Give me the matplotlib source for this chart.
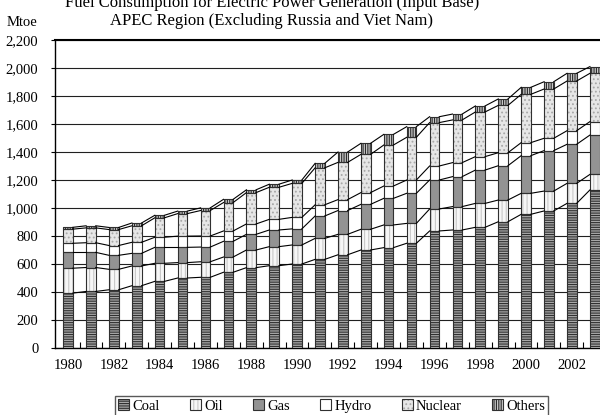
import matplotlib
matplotlib.use("Agg")
import numpy as np
import matplotlib.pyplot as plt
from matplotlib.patches import Patch
from matplotlib.legend_handler import HandlerTuple

plt.rcParams["font.family"] = ["Liberation Serif", "DejaVu Serif"]
plt.rcParams["hatch.linewidth"] = 0.8

years = list(range(1980, 2004))
coal = [392, 404, 416, 445, 476, 500, 505, 541, 574, 588, 600, 633,
        666, 700, 717, 748, 836, 843, 862, 902, 955, 979, 1033, 1129]
oil = [178, 171, 146, 141, 129, 110, 111, 109, 126, 136, 136, 150,
       146, 148, 162, 142, 157, 167, 171, 155, 150, 142, 143, 111]
gas = [113, 108, 100, 90, 114, 109, 105, 112, 112, 119, 115, 160,
       170, 178, 190, 215, 207, 214, 238, 245, 269, 289, 279, 281]
hydro = [65, 69, 70, 79, 72, 80, 79, 74, 74, 76, 82, 80,
         78, 84, 88, 95, 100, 100, 96, 93, 93, 88, 97, 96]
nuclear = [101, 106, 114, 118, 139, 161, 182, 203, 224, 229, 243, 264,
           266, 273, 293, 305, 310, 305, 319, 338, 345, 352, 355, 345]
others = [13, 15, 15, 20, 18, 18, 19, 23, 20, 22, 24, 32,
          74, 79, 76, 76, 42, 42, 43, 46, 50, 52, 55, 48]

series = [("Coal", coal), ("Oil", oil), ("Gas", gas),
          ("Hydro", hydro), ("Nuclear", nuclear), ("Others", others)]
# facecolor, hatch, hatch colour
styles = {
    "Coal": ("#a8a8a8", "-------", "#303030"),
    "Oil": ("#f6f6f6", "||||", "#c8c8c8"),
    "Gas": ("#939393", "", "#939393"),
    "Hydro": ("#ffffff", "", "#ffffff"),
    "Nuclear": ("#e6e6e6", "....", "#a8a8a8"),
    "Others": ("#c8c8c8", "|||||||", "#2a2a2a"),
}

fig = plt.figure(figsize=(6.0, 4.15), dpi=100)
ax = fig.add_axes([55 / 600, 1 - 348 / 415, 545 / 600, 308 / 415])

x = np.arange(len(years))
w = 0.42
bottom = np.zeros(len(years))
handles = []
tops = []
for name, vals in series:
    fc, hatch, hc = styles[name]
    v = np.array(vals, dtype=float)
    ax.bar(x, v, w, bottom=bottom, color=fc, hatch=hatch, edgecolor=hc,
           linewidth=0, zorder=3)
    ax.bar(x, v, w, bottom=bottom, fill=False, edgecolor="#303030",
           linewidth=0.8, zorder=4)
    bottom = bottom + v
    tops.append(bottom.copy())
    handles.append((Patch(facecolor=fc, hatch=hatch, edgecolor=hc, linewidth=0),
                    Patch(fill=False, edgecolor="#303030", linewidth=0.8)))

# series lines between bars
for t in tops:
    for i in range(len(x) - 1):
        ax.plot([x[i] + w / 2, x[i + 1] - w / 2], [t[i], t[i + 1]],
                color="black", lw=0.8, zorder=5)

ax.set_ylim(0, 2200)
ax.set_xlim(-0.57, 23.23)
ax.set_yticks(range(0, 2201, 200))
ax.set_yticklabels([f"{v:,}" for v in range(0, 2201, 200)])
ax.yaxis.grid(True, color="#202020", lw=0.8, zorder=0)
ax.set_axisbelow(True)

ax.set_xticks(x[::2])
ax.set_xticklabels([str(y) for y in years[::2]])
ax.set_xticks(x[:-1] + 0.5, minor=True)
ax.tick_params(axis="x", which="major", length=0, pad=8, labelsize=10.5)
ax.tick_params(axis="x", which="minor", direction="in", length=4, width=0.8)
ax.tick_params(axis="y", length=3, width=0.8, pad=9, labelsize=10.5)

ax.spines["right"].set_visible(False)
ax.spines["top"].set_linewidth(1.5)
ax.spines["left"].set_linewidth(1.0)
ax.spines["bottom"].set_linewidth(1.0)

fig.text(272 / 600, 1 - 12 / 415,
         "Fuel Consumption for Electric Power Generation (Input Base)\n"
         "APEC Region (Excluding Russia and Viet Nam)",
         ha="center", va="center", fontsize=12, linespacing=1.15)
fig.text(22 / 600, 1 - 22 / 415, "Mtoe", ha="center", va="center", fontsize=10.5)

leg = fig.legend(handles, [s[0] for s in series],
                 handler_map={tuple: HandlerTuple(ndivide=1, pad=0)},
                 loc="upper left", bbox_to_anchor=(108 / 600, 1 - 389 / 415),
                 ncol=6, frameon=True, fancybox=False, edgecolor="#303030",
                 handlelength=0.75, handleheight=0.75, handletextpad=0.2,
                 columnspacing=2.1, borderpad=0.2, fontsize=10.5)
leg.get_frame().set_linewidth(1.0)

fig.savefig("out.png", dpi=100)
